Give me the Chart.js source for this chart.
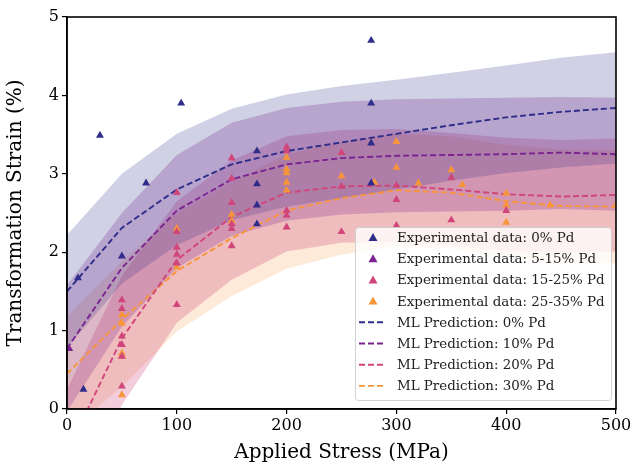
<!DOCTYPE html>
<html>
<head>
<meta charset="utf-8">
<script src="https://cdn.jsdelivr.net/npm/chart.js@4.4.0/dist/chart.umd.min.js"></script>
<style>
  html, body { margin: 0; padding: 0; background: #fff; }
  #wrap { width: 634px; height: 469px; }
</style>
</head>
<body>
<div id="wrap"><canvas id="strainChart" width="634" height="469"></canvas></div>
<script>
// ML prediction grid (MPa)
var stressGrid = [0, 50, 100, 150, 200, 250, 300, 350, 400, 450, 500];

// ML predictions (mean) and shaded bands
var pred0 = [1.50, 2.31, 2.80, 3.12, 3.29, 3.40, 3.51, 3.62, 3.72, 3.79, 3.84];
var pred10 = [0.77, 1.80, 2.53, 2.93, 3.12, 3.20, 3.23, 3.24, 3.25, 3.27, 3.25];
var pred20 = [-0.55, 0.90, 1.90, 2.45, 2.76, 2.84, 2.85, 2.80, 2.74, 2.71, 2.73];
var pred30 = [0.45, 1.14, 1.76, 2.18, 2.53, 2.69, 2.79, 2.76, 2.65, 2.59, 2.58];

var upper0 = [2.22, 3.00, 3.51, 3.83, 4.01, 4.12, 4.20, 4.29, 4.38, 4.48, 4.55];
var lower0 = [0.78, 1.60, 2.09, 2.41, 2.58, 2.69, 2.80, 2.91, 3.01, 3.08, 3.13];
var upper10 = [1.58, 2.50, 3.24, 3.65, 3.84, 3.92, 3.95, 3.96, 3.97, 3.98, 3.97];
var lower10 = [-0.03, 1.05, 1.80, 2.21, 2.40, 2.48, 2.51, 2.52, 2.53, 2.55, 2.53];
var upper20 = [0.25, 1.70, 2.65, 3.17, 3.48, 3.56, 3.57, 3.52, 3.46, 3.43, 3.45];
var lower20 = [-1.35, 0.05, 1.10, 1.65, 2.01, 2.12, 2.13, 2.08, 2.02, 1.99, 2.01];
var upper30 = [1.18, 1.88, 2.50, 2.90, 3.25, 3.41, 3.51, 3.48, 3.37, 3.31, 3.30];
var lower30 = [-0.30, 0.28, 0.99, 1.44, 1.79, 1.97, 2.07, 2.04, 1.93, 1.87, 1.86];

// experimental data
var exp0X = [10, 15, 30, 50, 72, 104, 173, 173, 173, 173, 277, 277, 277, 277];
var exp0Y = [1.67, 0.25, 3.49, 1.95, 2.88, 3.90, 3.29, 2.87, 2.60, 2.36, 4.70, 3.90, 3.39, 2.88];
var exp10X = [2];
var exp10Y = [0.77];
var exp20X = [50, 50, 50, 50, 50, 50, 100, 100, 100, 100, 100, 100, 150, 150, 150, 150, 150, 150,
              200, 200, 200, 200, 200, 250, 250, 250, 300, 300, 300, 350, 350, 400];
var exp20Y = [1.39, 1.28, 0.93, 0.82, 0.67, 0.29, 2.76, 2.26, 2.06, 1.97, 1.86, 1.33, 3.20, 2.94, 2.63, 2.36, 2.30, 2.08,
              3.34, 3.29, 2.53, 2.47, 2.32, 3.27, 2.84, 2.26, 2.85, 2.67, 2.34, 2.95, 2.41, 2.53];
var exp30X = [50, 50, 50, 50, 50, 100, 100, 150, 150, 200, 200, 200, 200, 200, 250, 280, 300, 300,
              320, 350, 360, 400, 400, 400, 440, 500];
var exp30Y = [1.20, 1.09, 0.71, 0.67, 0.18, 2.30, 1.81, 2.48, 2.40, 3.21, 3.06, 3.01, 2.89, 2.79, 2.97, 2.89, 3.41, 3.08,
              2.88, 3.05, 2.86, 2.75, 2.60, 2.38, 2.60, 2.60];

var xTicks = [0, 100, 200, 300, 400, 500];
var yTicks = [0, 1, 2, 3, 4, 5];

var scatterLabels = ['Experimental data: 0% Pd', 'Experimental data: 5-15% Pd',
                     'Experimental data: 15-25% Pd', 'Experimental data: 25-35% Pd'];
var lineLabels = ['ML Prediction: 0% Pd', 'ML Prediction: 10% Pd',
                  'ML Prediction: 20% Pd', 'ML Prediction: 30% Pd'];
var colors = ['#2f2c8a', '#7b2390', '#d0457a', '#f7953b'];
var bandColors = ['rgba(47,44,138,0.22)', 'rgba(123,35,144,0.26)', 'rgba(208,69,122,0.27)', 'rgba(247,149,59,0.2)'];

var FONT = "'DejaVu Serif', serif";

function pts(xs, ys) {
    return xs.map(function(x, i) { return { x: x, y: ys[i] }; });
}

var preds = [pred0, pred10, pred20, pred30];
var uppers = [upper0, upper10, upper20, upper30];
var lowers = [lower0, lower10, lower20, lower30];
var expX = [exp0X, exp10X, exp20X, exp30X];
var expY = [exp0Y, exp10Y, exp20Y, exp30Y];

var datasets = [];
for (var i = 0; i < 4; i++) {
    datasets.push({
        label: scatterLabels[i],
        data: pts(expX[i], expY[i]),
        pointStyle: 'triangle',
        pointRadius: 4.6,
        backgroundColor: colors[i],
        borderColor: colors[i],
        borderWidth: 0,
        order: 0
    });
}
for (var i = 0; i < 4; i++) {
    datasets.push({
        label: lineLabels[i],
        data: pts(stressGrid, preds[i]),
        showLine: true,
        pointRadius: 0,
        borderColor: colors[i],
        borderWidth: 1.9,
        borderDash: [6, 3],
        fill: false,
        order: 1
    });
}
for (var i = 0; i < 4; i++) {
    datasets.push({
        label: 'band' + i,
        data: pts(stressGrid, uppers[i]),
        showLine: true,
        pointRadius: 0,
        borderWidth: 0,
        borderColor: 'rgba(0,0,0,0)',
        backgroundColor: bandColors[i],
        fill: '+1',
        order: 2
    });
    datasets.push({
        label: 'bandlo' + i,
        data: pts(stressGrid, lowers[i]),
        showLine: true,
        pointRadius: 0,
        borderWidth: 0,
        borderColor: 'rgba(0,0,0,0)',
        fill: false,
        order: 2
    });
}

// frame around plot area + legend box inside
var framePlugin = {
    id: 'frame',
    afterDatasetsDraw: function(chart) {
        var a = chart.chartArea, ctx = chart.ctx;
        ctx.save();
        ctx.strokeStyle = '#000';
        ctx.lineWidth = 1.6;
        ctx.strokeRect(a.left, a.top, a.right - a.left, a.bottom - a.top);
        ctx.restore();
    },
    afterDraw: function(chart) {
        var ctx = chart.ctx;
        var bx = 355, by = 227, bw = 256, bh = 173;
        ctx.save();
        ctx.fillStyle = 'rgba(255,255,255,0.8)';
        ctx.strokeStyle = 'rgba(204,204,204,0.9)';
        ctx.lineWidth = 1;
        ctx.beginPath();
        ctx.roundRect(bx + 0.5, by + 0.5, bw, bh, 3);
        ctx.fill();
        ctx.stroke();
        ctx.font = '13.4px ' + FONT;
        ctx.textBaseline = 'middle';
        var rowH = 21.2, y0 = 237.5;
        for (var i = 0; i < 8; i++) {
            var cy = y0 + i * rowH;
            var c = colors[i % 4];
            if (i < 4) {
                ctx.fillStyle = c;
                ctx.beginPath();
                ctx.moveTo(373, cy - 4.5);
                ctx.lineTo(377.5, cy + 3.5);
                ctx.lineTo(368.5, cy + 3.5);
                ctx.closePath();
                ctx.fill();
            } else {
                ctx.strokeStyle = c;
                ctx.lineWidth = 1.9;
                ctx.setLineDash([6, 3]);
                ctx.beginPath();
                ctx.moveTo(359, cy);
                ctx.lineTo(384, cy);
                ctx.stroke();
                ctx.setLineDash([]);
            }
            ctx.fillStyle = '#222';
            ctx.fillText(i < 4 ? scatterLabels[i] : lineLabels[i - 4], 397, cy + 1);
        }
        ctx.restore();
    }
};

var ctx = document.getElementById('strainChart').getContext('2d');
var strainChart = new Chart(ctx, {
    type: 'scatter',
    data: { datasets: datasets },
    plugins: [framePlugin],
    options: {
        responsive: false,
        animation: false,
        layout: { padding: { top: 17, right: 18, left: 4, bottom: 4 } },
        plugins: {
            legend: { display: false },
            tooltip: { enabled: false },
            filler: { propagate: false }
        },
        scales: {
            x: {
                type: 'linear',
                min: 0,
                max: 500,
                afterBuildTicks: function(scale) {
                    scale.ticks = xTicks.map(function(v) { return { value: v }; });
                },
                afterFit: function(scale) { scale.height = 56; },
                grid: { drawOnChartArea: false, drawTicks: true, tickLength: 5, color: '#000', lineWidth: 1.2 },
                border: { color: '#000', width: 1.6 },
                ticks: { color: '#000', font: { family: FONT, size: 16 }, padding: 2, maxRotation: 0 },
                title: { display: true, text: 'Applied Stress (MPa)', color: '#000',
                         font: { family: FONT, size: 20 }, padding: { top: 1, bottom: 0 } }
            },
            y: {
                type: 'linear',
                min: 0,
                max: 5,
                afterBuildTicks: function(scale) {
                    scale.ticks = yTicks.map(function(v) { return { value: v }; });
                },
                afterFit: function(scale) { scale.width = 63; },
                grid: { drawOnChartArea: false, drawTicks: true, tickLength: 5, color: '#000', lineWidth: 1.2 },
                border: { color: '#000', width: 1.6 },
                ticks: { color: '#000', font: { family: FONT, size: 16 }, padding: 3 },
                title: { display: true, text: 'Transformation Strain (%)', color: '#000',
                         font: { family: FONT, size: 20 }, padding: { top: 0, bottom: 4 } }
            }
        }
    }
});
</script>
</body>
</html>
